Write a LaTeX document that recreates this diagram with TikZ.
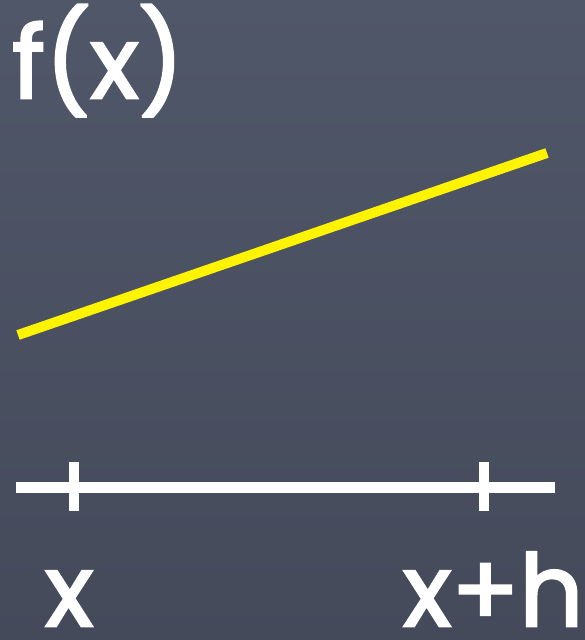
\documentclass[tikz,border=0pt]{standalone}
\usepackage{fontspec}
\newfontfamily\chalkfont{Poppins}[FakeBold=2.5]
\definecolor{slate}{RGB}{68,74,90}
\definecolor{slatelight}{RGB}{80,87,104}
\definecolor{chalkyellow}{RGB}{255,244,0}
\tikzset{
  chalk/.style={text=white, inner sep=0pt, text depth=0pt, font=\chalkfont\fontsize{100}{100}\selectfont},
  whiteline/.style={draw=white, line width=11pt},
  tickline/.style={draw=white, line width=10pt},
  yellowline/.style={draw=chalkyellow, line width=10pt}
}
\begin{document}
\begin{tikzpicture}[x=1pt,y=-1pt]
\useasboundingbox (0,0) rectangle (585,640);
\shade[top color=slatelight, bottom color=slate] (0,0) rectangle (585,640);
% labels
\node[chalk, anchor=base west] (fx) at (12,98) {f(x)};
\node[chalk, anchor=base west] (lx) at (45,626) {x};
\node[chalk, anchor=base west] (lxh) at (403,626) {x+h};
% yellow line
\coordinate (ya) at (18,335);
\coordinate (yb) at (547,153);
\draw[yellowline] (ya) -- (yb);
% axis segment
\coordinate (la) at (16,487);
\coordinate (lb) at (555,487);
\draw[whiteline] (la) -- (lb);
\coordinate (t1a) at (74,462);
\coordinate (t1b) at (74,511);
\coordinate (t2a) at (484,462);
\coordinate (t2b) at (484,511);
\draw[tickline] (t1a) -- (t1b);
\draw[tickline] (t2a) -- (t2b);
\end{tikzpicture}
\end{document}
